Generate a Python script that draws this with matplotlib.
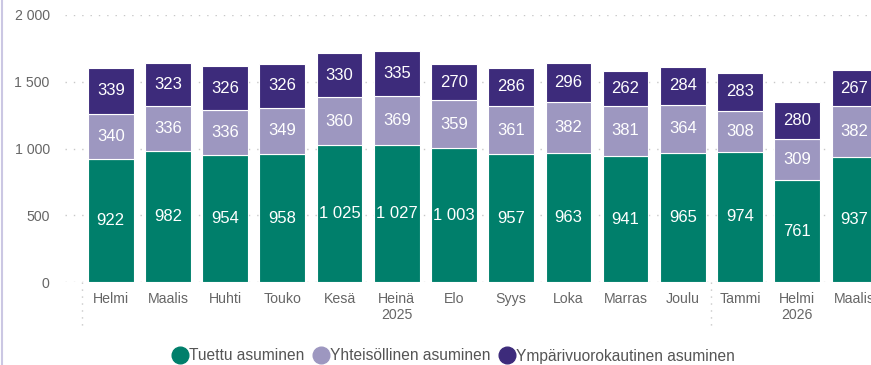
import numpy as np
import matplotlib.pyplot as plt
from matplotlib.lines import Line2D

plt.rcParams['font.family'] = ['Liberation Sans', 'DejaVu Sans']

months = ['Helmi', 'Maalis', 'Huhti', 'Touko', 'Kesä', 'Heinä\n2025', 'Elo', 'Syys',
          'Loka', 'Marras', 'Joulu', 'Tammi', 'Helmi\n2026', 'Maalis']
tuettu = [922, 982, 954, 958, 1025, 1027, 1003, 957, 963, 941, 965, 974, 761, 937]
yhteisollinen = [340, 336, 336, 349, 360, 369, 359, 361, 382, 381, 364, 308, 309, 382]
ymparivuoro = [339, 323, 326, 326, 330, 335, 270, 286, 296, 262, 284, 283, 280, 267]
series_names = ['Tuettu asuminen', 'Yhteisöllinen asuminen', 'Ympärivuorokautinen asuminen']
colors = ['#007f6b', '#9d97c0', '#3d2b7b']


def fmt(v):
    return f'{v:,.0f}'.replace(',', ' ')


fig = plt.figure(figsize=(8.71, 3.65), dpi=100)
ax = fig.add_axes([65 / 871, 83 / 365, 806 / 871, 267 / 365])

x = np.arange(len(months))
bottom = np.zeros(len(months))
for vals, col in zip([tuettu, yhteisollinen, ymparivuoro], colors):
    vals = np.array(vals)
    ax.bar(x, vals, 0.8, bottom=bottom, color=col, edgecolor='white', linewidth=0.8, zorder=3)
    for xi, b, v in zip(x, bottom, vals):
        ax.text(xi, b + v / 2, fmt(v), ha='center', va='center', color='white',
                fontsize=12, zorder=4)
    bottom += vals

ax.set_xlim(-0.8, 13.29)
ax.set_ylim(0, 2000)
ax.set_yticks([0, 500, 1000, 1500, 2000])
ax.set_yticklabels([fmt(t) for t in [0, 500, 1000, 1500, 2000]])
ax.set_xticks(x)
ax.set_xticklabels(months)
ax.tick_params(axis='both', length=0, colors='#666666', labelsize=10.2)
ax.tick_params(axis='x', pad=7)
ax.tick_params(axis='y', pad=11)
ax.grid(axis='y', color='#c8c8c8', linestyle=(0, (1, 5)), linewidth=1, zorder=0)
for s in ax.spines.values():
    s.set_visible(False)

# year separators below the axis
trans = ax.get_xaxis_transform()
for sx in [-0.5, 10.5]:
    ax.plot([sx, sx], [0, -0.165], transform=trans, clip_on=False,
            color='#c8c8c8', linestyle=(0, (1, 4)), linewidth=1)

handles = [Line2D([], [], marker='o', linestyle='none', markersize=12,
                  markerfacecolor=c, markeredgecolor=c) for c in colors]
fig.legend(handles, series_names, loc='center', bbox_to_anchor=(453 / 871, 1 - 356 / 365),
           ncol=3, frameon=False, fontsize=11.2, handletextpad=0.05, columnspacing=0.5,
           handlelength=1.1, labelcolor='#555555')

fig.add_artist(Line2D([1.5 / 871, 1.5 / 871], [0, 1], color='#cbc7e3', linewidth=1.5))

fig.savefig('out.png', dpi=100)
